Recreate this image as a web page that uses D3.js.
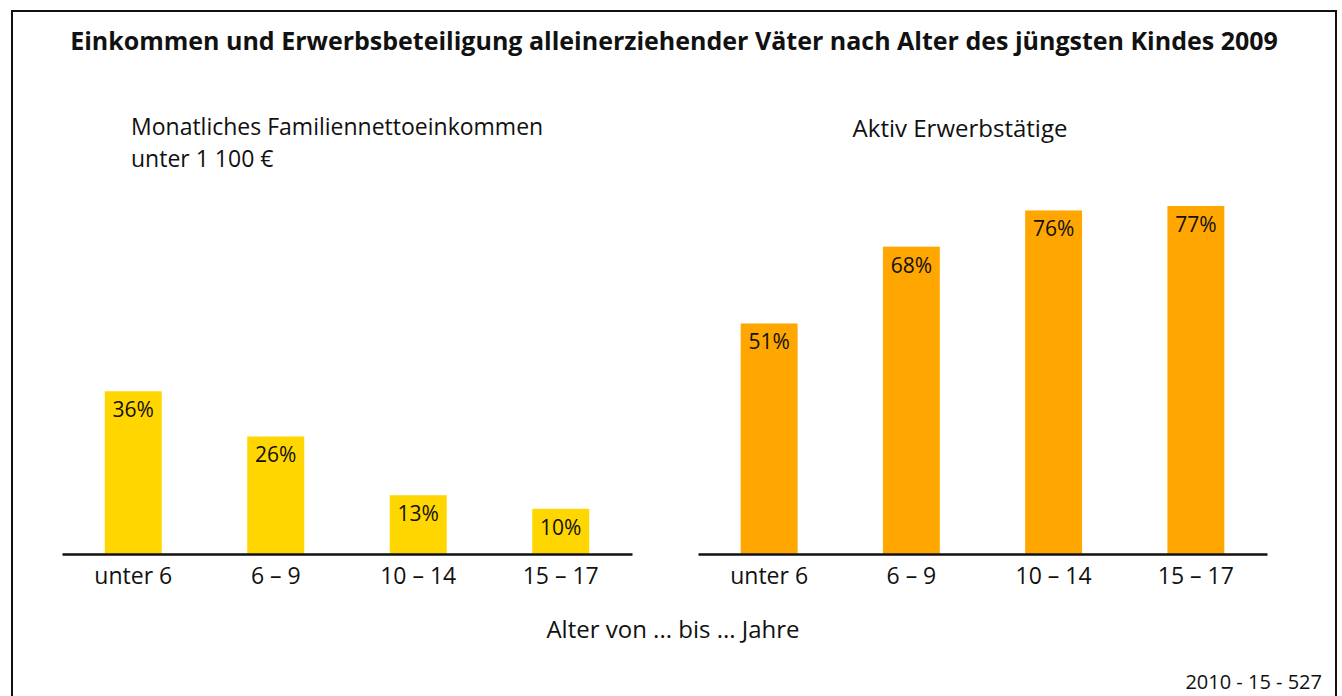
<!DOCTYPE html>
<html>
<head>
<meta charset="utf-8">
<script src="https://cdn.jsdelivr.net/npm/d3@7"></script>
<style>
  body { margin: 0; background: #fff; }
  text { font-family: "Open Sans", "Noto Sans", sans-serif; fill: #111; }
</style>
</head>
<body>
<div id="chart"></div>
<script>
// data
var ageGroups = ["unter 6", "6 – 9", "10 – 14", "15 – 17"];
var incomeShare = [36, 26, 13, 10];     // Monatliches Familiennettoeinkommen unter 1 100 €
var employedShare = [51, 68, 76, 77];   // Aktiv Erwerbstätige

var W = 1342, H = 696;

var svg = d3.select("#chart").append("svg")
  .attr("width", W)
  .attr("height", H);

// frame
svg.append("rect")
  .attr("x", 12).attr("y", 11)
  .attr("width", 1324).attr("height", 700)
  .attr("fill", "none")
  .attr("stroke", "#111")
  .attr("stroke-width", 2);

svg.append("text")
  .attr("x", 674)
  .attr("y", 50)
  .attr("text-anchor", "middle")
  .style("font-size", "25px")
  .style("font-weight", "bold")
  .text("Einkommen und Erwerbsbeteiligung alleinerziehender Väter nach Alter des jüngsten Kindes 2009");

// shared value scale
var baseY = 554;
var y = d3.scaleLinear()
  .domain([0, 100])
  .range([baseY, baseY - 452]);

function drawPanel(x0, x1, values, color) {
  var x = d3.scaleBand()
    .domain(ageGroups)
    .range([x0, x1])
    .paddingInner(0.6)
    .paddingOuter(0.3);

  var data = ageGroups.map(function(d, i) { return {age: d, value: values[i]}; });

  var g = svg.append("g");

  g.selectAll(".bar")
    .data(data)
    .enter().append("rect")
    .attr("class", "bar")
    .attr("x", function(d) { return x(d.age); })
    .attr("y", function(d) { return y(d.value); })
    .attr("width", x.bandwidth())
    .attr("height", function(d) { return baseY - y(d.value); })
    .attr("fill", color);

  g.selectAll(".lbl")
    .data(data)
    .enter().append("text")
    .attr("class", "lbl")
    .attr("x", function(d) { return x(d.age) + x.bandwidth() / 2; })
    .attr("y", function(d) { return y(d.value) + 26; })
    .attr("text-anchor", "middle")
    .style("font-size", "21px")
    .text(function(d) { return d.value + "%"; });

  // x axis
  var ax = g.append("g")
    .attr("transform", "translate(0," + baseY + ")")
    .call(d3.axisBottom(x).tickSize(0).tickPadding(14));
  ax.select(".domain")
    .attr("stroke", "#111")
    .attr("stroke-width", 2.5);
  ax.selectAll("text")
    .style("font-size", "23px")
    .attr("fill", "#111");
}

drawPanel(62, 632, incomeShare, "#ffd600");
drawPanel(698, 1267, employedShare, "#ffa600");

// panel headings (left one wraps onto two lines)
var sub = svg.append("text")
  .attr("x", 131).attr("y", 135)
  .style("font-size", "23px");
sub.append("tspan")
  .attr("x", 131)
  .text("Monatliches Familiennettoeinkommen");
sub.append("tspan")
  .attr("x", 131).attr("dy", 32)
  .text("unter 1 100 €");

svg.append("text")
  .attr("x", 960).attr("y", 137)
  .attr("text-anchor", "middle")
  .style("font-size", "24px")
  .text("Aktiv Erwerbstätige");

svg.append("text")
  .attr("x", 673).attr("y", 638)
  .attr("text-anchor", "middle")
  .style("font-size", "24px")
  .text("Alter von ... bis ... Jahre");

svg.append("text")
  .attr("x", 1322).attr("y", 689)
  .attr("text-anchor", "end")
  .style("font-size", "20px")
  .text("2010 - 15 - 527");
</script>
</body>
</html>
